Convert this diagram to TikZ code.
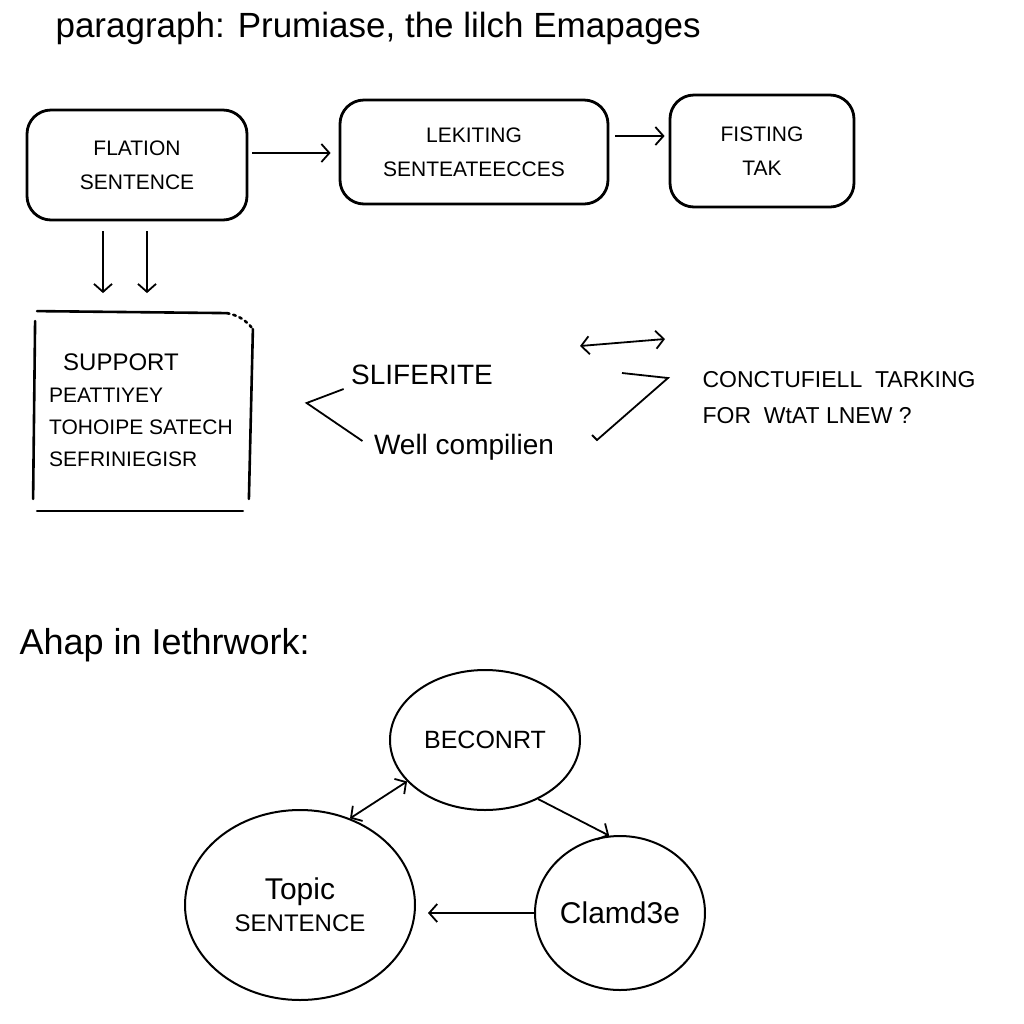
\documentclass[tikz,border=0pt]{standalone}
\usepackage{fontspec}
\setmainfont{Liberation Sans}
\usetikzlibrary{positioning,shapes.geometric,arrows.meta}

\tikzset{
  box/.style={draw, line width=1.4pt, rounded corners=12pt, align=center, font=\fontsize{10.5}{17}\selectfont},
  blob/.style={draw, ellipse, line width=1pt, align=center, inner sep=0pt},
  frame/.style={line width=1.3pt, line cap=round},
}

\begin{document}
\begin{tikzpicture}[x=0.5pt, y=-0.5pt, >={Straight Barb[length=4pt,width=9pt]}, line width=0.9pt]
\useasboundingbox (0,0) rectangle (1024,1024);
% heading
\node[anchor=west, font=\fontsize{17.5}{20}\selectfont] (title) at (48,28) {paragraph: Prumiase, the lilch Emapages};
% top row of boxes
\node[box, minimum width=110pt, minimum height=55pt] (flation) at (137,165) {FLATION\\SENTENCE};
\node[box, minimum width=134pt, minimum height=52pt] (leking) at (474,152) {LEKITING\\SENTEATEECCES};
\node[box, minimum width=92pt, minimum height=56pt] (fisting) at (762,151) {FISTING\\TAK};
\draw[->, shorten <=2pt, shorten >=4pt] ([yshift=6pt]flation.east) -- ([yshift=6pt]flation.east -| leking.west);
\draw[->, shorten <=3pt, shorten >=2pt] ([yshift=8pt]leking.east) -- ([yshift=8pt]leking.east -| fisting.west);
% support box
\node[minimum width=111pt, minimum height=100pt, align=left, font=\fontsize{10.5}{16}\selectfont] (support) at (141,410)
  {\hspace*{7pt}\fontsize{12}{16}\selectfont SUPPORT\\PEATTIYEY\\TOHOIPE SATECH\\SEFRINIEGISR};
\draw[->, shorten <=5pt, shorten >=8pt] ([xshift=-17pt]flation.south) -- ([xshift=-17pt]flation.south |- support.north);
\draw[->, shorten <=5pt, shorten >=8pt] ([xshift=5pt]flation.south) -- ([xshift=5pt]flation.south |- support.north);
\draw[frame] ([xshift=3pt,yshift=-6pt]support.north west) -- ([xshift=2pt,yshift=6pt]support.south west);
\draw[frame] ([xshift=4pt]support.south west) -- ([xshift=-5pt]support.south east);
\draw[frame] ([yshift=-10pt]support.north east) -- ([xshift=-2pt,yshift=6pt]support.south east);
\draw[frame] ([xshift=4pt,yshift=-1pt]support.north west) -- ([xshift=-13pt,yshift=-2pt]support.north east);
\draw[frame, dotted] ([xshift=-13pt,yshift=-2pt]support.north east) to[bend left=20] ([yshift=-10pt]support.north east);
% middle notes
\node[font=\fontsize{14}{16}\selectfont] (sliferite) at (422,375) {SLIFERITE};
\node[font=\fontsize{14}{16}\selectfont] (compilien) at (464,447) {Well compilien};
\node[anchor=west, align=left, font=\fontsize{11.5}{18}\selectfont] (conct) at (695,398) {CONCTUFIELL \ TARKING\\FOR \ WtAT LNEW ?};
\draw ([yshift=-7pt]sliferite.west) -- ++(-37,14) -- ([xshift=-2pt,yshift=3pt]compilien.west);
\draw (622,373) -- (668,378) -- (597,440) -- ++(-5,-5);
\coordinate (dl) at (580,346);
\coordinate (dr) at (665,339);
\draw[<->] (dl) -- (dr);
% lower part
\node[anchor=west, font=\fontsize{18}{20}\selectfont] (ahap) at (12,645) {Ahap in Iethrwork:};
\node[blob, minimum width=95pt, minimum height=70pt, font=\fontsize{12.5}{15}\selectfont] (beconrt) at (485,740) {BECONRT};
\node[blob, minimum width=115pt, minimum height=95pt, font=\fontsize{12}{16}\selectfont] (topic) at (300,905) {{\fontsize{15}{16}\selectfont Topic}\\SENTENCE};
\node[blob, minimum width=85pt, minimum height=77pt, font=\fontsize{15}{17}\selectfont] (clamd) at (620,913) {Clamd3e};
\draw[<->] (topic.60) -- (beconrt.208);
\draw[->] (beconrt.-48) -- (clamd.98);
\draw[->, shorten >=6pt] (clamd.west) -- (clamd.west -| topic.east);
\end{tikzpicture}
\end{document}
